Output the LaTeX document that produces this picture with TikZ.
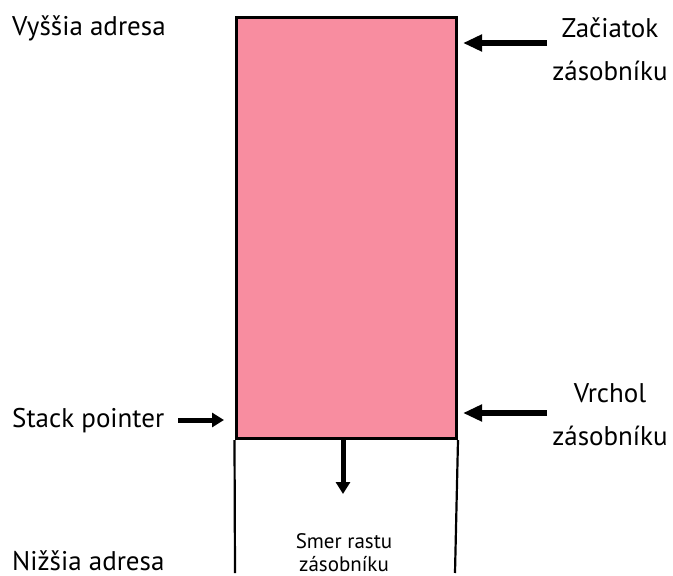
\documentclass[tikz,border=0pt]{standalone}
\usepackage{fontspec}
\setmainfont{PT Sans}
\usetikzlibrary{arrows.meta}
\definecolor{stackpink}{RGB}{248,141,160}
\begin{document}
\begin{tikzpicture}[x=1pt,y=-1pt,
  label text/.style={font=\fontsize{27}{43}\selectfont, align=center, inner sep=0pt, anchor=base},
  small text/.style={font=\fontsize{21}{23}\selectfont, align=center, inner sep=0pt, anchor=base},
  pointer/.style={line width=5.5pt, -{Triangle[length=19pt,width=16pt]}},
  short pointer/.style={line width=5pt, -{Triangle[length=12pt,width=14pt]}},
  stack frame/.style={draw=black, line width=3pt, fill=stackpink, inner sep=0pt},
  free wall/.style={draw=black, line width=2.2pt}]
  \useasboundingbox (0,0) rectangle (673,576);

  % used part of the stack
  \node[stack frame, minimum width=220.5pt, minimum height=421pt, anchor=north west] (stack) at (234.5,16) {};

  % free area below the top of the stack
  \coordinate (lowleft) at (235,573);
  \coordinate (lowright) at (455,573);
  \draw[free wall] (stack.south west) -- (lowleft);
  \draw[free wall] (stack.south east) -- (lowright);

  % address labels
  \node[label text, anchor=base west] (high) at (12,35) {Vyššia adresa};
  \node[label text, anchor=base west] (low) at (12,570) {Nižšia adresa};

  % start of the stack (base anchor sits on the last line)
  \node[label text] (start) at (610,80) {Začiatok\\zásobníku};
  \coordinate (starttail) at (547,43);
  \coordinate (starttip) at (463,43);
  \draw[pointer] (starttail) -- (starttip);

  % top of the stack
  \node[label text] (top) at (610,445) {Vrchol\\zásobníku};
  \coordinate (toptail) at (547,413);
  \coordinate (toptip) at (463,413);
  \draw[pointer] (toptail) -- (toptip);

  % stack pointer
  \node[label text, anchor=base west] (sp) at (12,427) {Stack pointer};
  \coordinate (sptip) at (224,420);
  \draw[short pointer] (sp.east |- sptip) ++(14,0) -- (sptip);

  % growth direction
  \coordinate (growtip) at (343,494);
  \draw[short pointer] (stack.south -| growtip) -- (growtip);
  \node[small text] (grow) at (344,571) {Smer rastu\\zásobníku};
\end{tikzpicture}
\end{document}
